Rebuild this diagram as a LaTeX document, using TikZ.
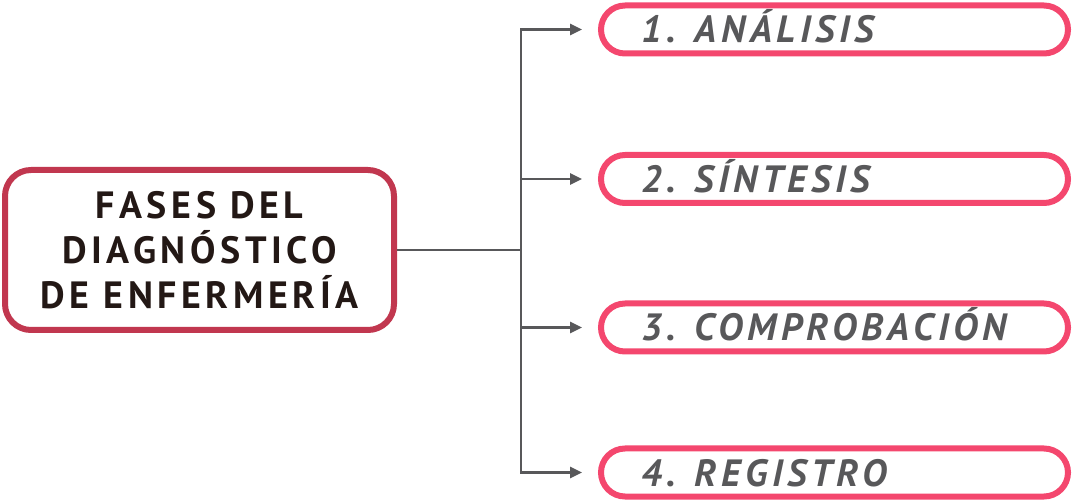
\documentclass[tikz,border=0pt]{standalone}
\usepackage{fontspec}
\setmainfont{PT Sans}
\newfontfamily\titlefont[LetterSpace=12]{PT Sans}
\newfontfamily\phasefont[LetterSpace=12]{PT Sans}
\usepackage{xcolor}
\definecolor{titlered}{HTML}{C1374F}
\definecolor{phasepink}{HTML}{F4476E}
\definecolor{linegray}{HTML}{58585A}
\definecolor{textdark}{HTML}{231815}
\usetikzlibrary{arrows.meta, positioning}

\begin{document}
\begin{tikzpicture}[x=1pt,y=-1pt,>={Triangle[length=12pt,width=11pt]},
        every node/.style={scale=1}]
        \tikzstyle{title}=[draw=titlered,line width=6pt,rounded corners=26pt,fill=white,
            minimum width=389pt,minimum height=160pt,align=center,text=textdark,
            font=\titlefont\bfseries\fontsize{38}{45}\selectfont]
        \tikzstyle{phase}=[draw=phasepink,line width=6pt,rounded corners=24pt,fill=white,
            text width=387pt,inner xsep=40pt,minimum height=48pt,align=left,
            text height=27pt,text depth=0pt,text=linegray,
            font=\phasefont\bfseries\itshape\fontsize{38}{45}\selectfont]
        \tikzstyle{link}=[draw=linegray,line width=2.5pt]
        \useasboundingbox (0,0) rectangle (1074,502);
        \node[title](fases) at (199.5,250) {FASES DEL\\DIAGNÓSTICO\\DE ENFERMERÍA};
        \node[phase](analisis) at (834.5,29.5) {1. ANÁLISIS};
        \node[phase](sintesis) at (834.5,179) {2. SÍNTESIS};
        \node[phase](comprob) at (834.5,327.5) {\mbox{3. COMPROBACIÓN}};
        \node[phase](registro) at (834.5,472.5) {4. REGISTRO};
        \coordinate (split) at (521,250);
        \draw[link] (fases.east) -- (split);
        \draw[link,->,shorten >=16pt] (split) |- (analisis.west);
        \draw[link,->,shorten >=16pt] (split) |- (sintesis.west);
        \draw[link,->,shorten >=16pt] (split) |- (comprob.west);
        \draw[link,->,shorten >=16pt] (split) |- (registro.west);
     \end{tikzpicture}
\end{document}
